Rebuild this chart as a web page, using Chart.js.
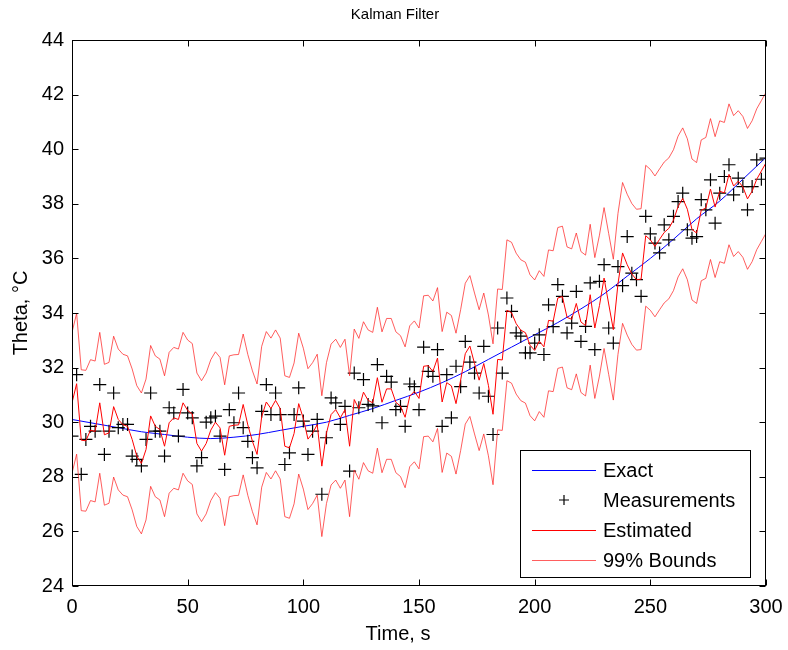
<!DOCTYPE html>
<html>
<head>
<meta charset="utf-8">
<title>Kalman Filter</title>
<script src="https://cdn.jsdelivr.net/npm/chart.js@4.4.0/dist/chart.umd.min.js"></script>
<style>
  html, body { margin: 0; padding: 0; background: #fff; }
</style>
</head>
<body>
<canvas id="myChart" width="788" height="650"></canvas>
<script>
// sample period of the filter, seconds
const timeStep = 2;

// exact temperature (smooth curve), read every 10 s
const exactTimes = [0, 10, 20, 30, 40, 50, 60, 70, 80, 90, 100, 110, 120, 130, 140, 150,
    160, 170, 180, 190, 200, 210, 220, 230, 240, 250, 260, 270, 280, 290, 300];
const exactTheta = [30.1, 29.95, 29.8, 29.65, 29.55, 29.45, 29.4, 29.45, 29.55, 29.7, 29.85,
    30.0, 30.25, 30.5, 30.8, 31.1, 31.45, 31.85, 32.3, 32.75, 33.2, 33.65, 34.15, 34.7,
    35.35, 36.0, 36.7, 37.45, 38.1, 38.9, 39.7];

// noisy measurements, one every 2 s (t = 0 ... 300)
const measuredTheta = [
    29.49, 31.74, 28.09, 29.37, 29.85, 29.67, 31.38, 28.82, 29.67, 31.07,
    29.80, 29.92, 29.92, 28.76, 28.64, 28.40, 29.37, 31.07, 29.67, 29.67,
    28.76, 30.53, 30.34, 29.49, 31.20, 30.34, 30.16, 28.40, 28.70, 30.00,
    30.16, 30.22, 29.49, 28.27, 30.46, 29.98, 31.07, 29.80, 29.30, 28.70,
    28.33, 30.40, 31.38, 30.28, 31.07, 30.28, 28.45, 28.88, 30.28, 31.26,
    30.04, 28.82, 29.67, 30.10, 27.36, 29.43, 30.89, 30.71, 29.92, 30.58,
    28.21, 31.80, 30.53, 31.56, 30.65, 30.60, 32.11, 29.98, 31.68, 31.47,
    30.46, 30.58, 29.85, 31.40, 31.30, 30.46, 32.75, 31.86, 31.68, 32.66,
    29.85, 31.74, 30.16, 32.05, 31.30, 32.96, 32.20, 31.80, 31.07, 32.78,
    30.95, 29.55, 33.45, 31.80, 34.55, 34.06, 33.27, 33.15, 32.54, 32.54,
    32.90, 33.20, 32.48, 34.30, 33.50, 35.04, 34.61, 33.27, 33.63, 34.79,
    32.96, 33.51, 35.10, 32.66, 35.16, 35.77, 33.45, 32.90, 35.70, 35.00,
    36.80, 35.46, 35.22, 34.61, 37.54, 36.90, 36.56, 36.20, 37.23, 36.68,
    37.54, 38.08, 38.39, 37.05, 36.74, 36.80, 38.15, 37.78, 38.88, 37.29,
    38.39, 39.00, 39.43, 38.33, 38.94, 38.63, 37.78, 38.63, 39.61, 38.90,
    39.67];

// Kalman estimate, one every 2 s
const estimatedTheta = [
    30.71, 31.41, 29.34, 29.32, 29.71, 29.66, 30.71, 29.54, 29.61, 30.57,
    30.10, 29.91, 29.85, 29.37, 28.76, 28.49, 29.00, 30.23, 29.85, 29.73,
    29.12, 29.98, 30.16, 30.10, 30.71, 30.43, 30.30, 29.22, 28.94, 29.22,
    29.71, 30.00, 29.79, 28.79, 29.85, 29.89, 29.90, 30.65, 29.90, 29.30,
    28.82, 30.20, 30.74, 30.50, 30.80, 30.50, 29.12, 29.06, 29.59, 30.68,
    30.13, 29.38, 29.60, 29.91, 28.39, 29.60, 30.28, 30.46, 30.16, 30.46,
    29.12, 30.83, 30.49, 31.10, 30.80, 30.71, 31.63, 30.73, 31.22, 31.22,
    30.73, 30.59, 30.18, 30.95, 31.13, 30.87, 32.05, 32.07, 31.86, 32.35,
    30.74, 31.45, 31.33, 30.68, 31.54, 32.51, 32.79, 32.15, 31.54, 32.15,
    31.35, 30.29, 32.30, 32.28, 34.10, 34.01, 33.61, 33.37, 33.28, 32.82,
    32.63, 32.97, 32.76, 33.73, 33.70, 34.55, 34.60, 33.84, 33.77, 34.35,
    33.67, 33.54, 34.67, 33.45, 34.27, 35.28, 34.33, 33.39, 35.06, 36.20,
    35.77, 35.43, 35.22, 35.24, 36.83, 36.68, 36.44, 36.70, 36.95, 37.10,
    37.40, 37.90, 38.20, 37.80, 37.06, 36.93, 37.76, 37.85, 38.54, 37.88,
    38.46, 38.40, 39.08, 38.65, 38.83, 38.62, 38.18, 38.46, 38.90, 39.20,
    39.50];

// half width of the 99% band around the estimate
const boundHalfWidth = 2.58;

const xTicks = [0, 50, 100, 150, 200, 250, 300];
const yTicks = [24, 26, 28, 30, 32, 34, 36, 38, 40, 42, 44];

const legendNames = ['Exact', 'Measurements', 'Estimated', '99% Bounds'];
const chartTitle = 'Kalman Filter';
const xLabel = 'Time, s';
const yLabel = 'Theta, °C';

const FONT = '"Liberation Sans", Arial, Helvetica, sans-serif';

function pairs(times, values) {
    return values.map((v, i) => ({ x: times[i], y: v }));
}

const sampleTimes = measuredTheta.map((v, i) => i * timeStep);

// MATLAB style box: full frame, inward ticks on all four sides, boxed legend
const matlabFrame = {
    id: 'matlabFrame',
    afterDatasetsDraw(chart) {
        const { ctx, chartArea: a, scales: { x, y } } = chart;
        ctx.save();
        ctx.strokeStyle = '#000';
        ctx.lineWidth = 1;
        const L = Math.round(a.left) + 0.5, R = Math.round(a.right) - 0.5;
        const T = Math.round(a.top) + 0.5, B = Math.round(a.bottom) - 0.5;
        ctx.strokeRect(L, T, R - L, B - T);
        ctx.beginPath();
        xTicks.forEach(v => {
            const px = Math.round(x.getPixelForValue(v)) + 0.5;
            ctx.moveTo(px, B); ctx.lineTo(px, B - 6);
            ctx.moveTo(px, T); ctx.lineTo(px, T + 6);
        });
        yTicks.forEach(v => {
            const py = Math.round(y.getPixelForValue(v)) + 0.5;
            ctx.moveTo(L, py); ctx.lineTo(L + 6, py);
            ctx.moveTo(R, py); ctx.lineTo(R - 6, py);
        });
        ctx.stroke();

        // legend
        const bx = Math.round(R) - 246, by = Math.round(B) - 136, bw = 230, bh = 127;
        ctx.fillStyle = '#fff';
        ctx.fillRect(bx, by, bw, bh);
        ctx.strokeRect(bx + 0.5, by + 0.5, bw, bh);
        const ds = chart.data.datasets;
        ctx.font = '20px ' + FONT;
        ctx.textBaseline = 'middle';
        ctx.textAlign = 'left';
        legendNames.forEach((name, row) => {
            const cy = by + 20 + row * 30;
            const d = ds[row];
            ctx.strokeStyle = d.borderColor;
            ctx.lineWidth = d.borderWidth;
            ctx.beginPath();
            if (d.showLine === false) {
                const cx = bx + 44, r = 5;
                ctx.moveTo(cx - r, cy); ctx.lineTo(cx + r, cy);
                ctx.moveTo(cx, cy - r); ctx.lineTo(cx, cy + r);
            } else {
                ctx.moveTo(bx + 12, cy + 0.5); ctx.lineTo(bx + 76, cy + 0.5);
            }
            ctx.stroke();
            ctx.fillStyle = '#000';
            ctx.fillText(name, bx + 83, cy + 1);
        });

        // title and x label, placed where the figure has them
        ctx.textAlign = 'center';
        ctx.font = '15px ' + FONT;
        ctx.fillText(chartTitle, 395, 15);
        ctx.font = '20px ' + FONT;
        ctx.fillText(xLabel, 398, 634);
        ctx.restore();
    }
};

const ctx = document.getElementById('myChart');

new Chart(ctx, {
    type: 'line',
    data: {
        datasets: [
            {
                label: legendNames[0],
                data: pairs(exactTimes, exactTheta),
                borderColor: 'rgb(0, 0, 255)',
                borderWidth: 1,
                pointRadius: 0,
                cubicInterpolationMode: 'monotone',
                order: 4
            },
            {
                label: legendNames[1],
                data: pairs(sampleTimes, measuredTheta),
                showLine: false,
                pointStyle: 'cross',
                pointRadius: 6.5,
                borderColor: '#000',
                borderWidth: 1.2,
                order: 3
            },
            {
                label: legendNames[2],
                data: pairs(sampleTimes, estimatedTheta),
                borderColor: 'rgb(255, 0, 0)',
                borderWidth: 1,
                pointRadius: 0,
                order: 2
            },
            {
                label: legendNames[3],
                data: pairs(sampleTimes, estimatedTheta.map(v => v + boundHalfWidth)),
                borderColor: 'rgba(255, 30, 30, 0.8)',
                borderWidth: 0.9,
                pointRadius: 0,
                order: 1
            },
            {
                label: 'lower bound',
                data: pairs(sampleTimes, estimatedTheta.map(v => v - boundHalfWidth)),
                borderColor: 'rgba(255, 30, 30, 0.8)',
                borderWidth: 0.9,
                pointRadius: 0,
                order: 1
            }
        ]
    },
    options: {
        responsive: false,
        animation: false,
        layout: { padding: { left: 0, right: 22, top: 40, bottom: 0 } },
        plugins: {
            legend: { display: false },
            tooltip: { enabled: false },
            title: { display: false }
        },
        scales: {
            x: {
                type: 'linear',
                min: 0,
                max: 300,
                afterBuildTicks: s => { s.ticks = xTicks.map(v => ({ value: v })); },
                afterFit: s => { s.height = 64; s.paddingLeft = 0; s.paddingRight = 0; },
                grid: { display: false, drawTicks: false },
                border: { display: false },
                ticks: { color: '#000', padding: 9, maxRotation: 0, font: { family: FONT, size: 20 } }
            },
            y: {
                min: 24,
                max: 44,
                afterBuildTicks: s => { s.ticks = yTicks.map(v => ({ value: v })); },
                afterFit: s => { s.width = 72; s.paddingTop = 0; s.paddingBottom = 0; },
                grid: { display: false, drawTicks: false },
                border: { display: false },
                ticks: { color: '#000', padding: 8, font: { family: FONT, size: 20 } },
                title: {
                    display: true,
                    text: yLabel,
                    color: '#000',
                    font: { family: FONT, size: 20 },
                    padding: { top: 9, bottom: 0 }
                }
            }
        }
    },
    plugins: [matlabFrame]
});
</script>
</body>
</html>
